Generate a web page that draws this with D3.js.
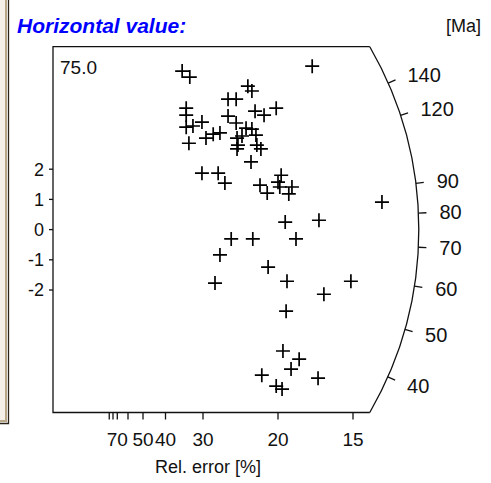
<!DOCTYPE html>
<html>
<head>
<meta charset="utf-8">
<script src="https://cdn.jsdelivr.net/npm/d3@7"></script>
<style>
  body { margin: 0; background: #fff; }
  text { font-family: "Liberation Sans", Arial, sans-serif; fill: #111; }
</style>
</head>
<body>
<div id="chart"></div>
<script>
var w = 491;
var h = 483;

// central value of the radial plot [Ma]
var centralAge = 75.0;

// precision (1 / rel. error) and standardised estimate of each grain
var precision = [2.87, 3.04, 4.33, 4.42, 3.89, 4.07, 4.96, 2.96, 4.49, 4.69,
                 2.96, 3.89, 3.31, 4.07, 2.96, 3.11, 4.29, 4.42, 3.71, 3.56,
                 3.40, 4.09, 4.20, 4.51, 3.02, 4.11, 4.09, 4.53, 4.62, 4.40,
                 3.31, 3.67, 3.82, 4.60, 4.76, 5.07, 5.00, 5.04, 5.31, 5.24,
                 5.16, 3.96, 4.44, 5.40, 3.71, 4.78, 3.60, 5.20, 6.62, 6.02,
                 5.76, 7.31, 5.91, 5.18, 5.11, 5.47, 5.29, 4.64, 5.89, 4.96, 5.09];
var zValue = [5.25, 5.05, 4.75, 4.59, 4.32, 4.32, 4.02, 4.02, 3.92, 3.79,
              3.79, 3.76, 3.56, 3.53, 3.39, 3.43, 3.36, 3.33, 3.20, 3.16,
              3.03, 3.03, 3.10, 3.13, 2.86, 2.80, 2.67, 2.80, 2.67, 2.24,
              1.87, 1.87, 1.54, 1.47, 1.21, 1.80, 1.57, 1.41, 1.41, 1.18,
              0.25, -0.31, -0.31, -0.31, -0.84, -1.24, -1.77, -1.71, -1.71, -2.14,
              5.41, 0.91, 0.31, -2.70, -4.02, -4.29, -4.62, -4.82, -4.92, -5.18, -5.28];

var zTicks = [2, 1, 0, -1, -2];
var relErrTicks = [80, 75, 70, 60, 50, 40, 30, 20, 15];
var relErrLabels = [70, 50, 40, 30, 20, 15];
var ageTicks = [140, 120, 90, 80, 70, 60, 50, 40];

var svg = d3.select("#chart").append("svg").attr("width", w).attr("height", h);

var x = d3.scaleLinear().domain([0, 7]).range([53, 368]);
var y = d3.scaleLinear().domain([-2, 2]).range([290, 169.2]);

var cx = x(0), cy = y(0);
var R = 365.8;
var maxAng = Math.PI / 6;
var k = 0.70;
function ageAngle(t) { return Math.atan(k * Math.log(t / centralAge)); }

// left window border
svg.append("rect").attr("x", 0).attr("y", 0).attr("width", 7).attr("height", 421)
  .style("fill", "#f4f0e8");
svg.append("path").attr("d", "M6,0V421H0").style("fill", "none")
  .style("stroke", "#b8a888").style("stroke-width", 2);
svg.append("path").attr("d", "M8.5,0V423.5H0").style("fill", "none")
  .style("stroke", "#2a2418").style("stroke-width", 1.3);

// frame: top, left, bottom and arc
var topY = cy - R * Math.sin(maxAng), botY = cy + R * Math.sin(maxAng);
var cornerX = cx + R * Math.cos(maxAng);
var arc = d3.arc().innerRadius(R).outerRadius(R)
  .startAngle(Math.PI / 2 - maxAng).endAngle(Math.PI / 2 + maxAng);
svg.append("path")
  .attr("d", "M" + cornerX + "," + topY + "H" + cx + "V" + botY + "H" + cornerX)
  .style("fill", "none").style("stroke", "#111").style("stroke-width", 1.3);
svg.append("path").attr("d", arc()).attr("transform", "translate(" + cx + "," + cy + ")")
  .style("fill", "none").style("stroke", "#111").style("stroke-width", 1.3);

// age ticks on the arc
ageTicks.forEach(function(t) {
  var a = ageAngle(t), c = Math.cos(a), s = Math.sin(a);
  svg.append("line")
    .attr("x1", cx + R * c).attr("y1", cy - R * s)
    .attr("x2", cx + (R + 8) * c).attr("y2", cy - (R + 8) * s)
    .style("stroke", "#111").style("stroke-width", 1.3);
  svg.append("text").text(t)
    .attr("x", cx + (R + 21) * c).attr("y", cy - (R + 21) * s)
    .attr("dy", "0.36em").attr("font-size", "20px");
});

// left axis (standardised estimate)
zTicks.forEach(function(v) {
  svg.append("line").attr("x1", cx - 4).attr("x2", cx).attr("y1", y(v)).attr("y2", y(v))
    .style("stroke", "#111").style("stroke-width", 1.3);
  svg.append("text").text(v).attr("x", 44).attr("y", y(v)).attr("dy", "0.36em")
    .attr("text-anchor", "end").attr("font-size", "18px");
});

// bottom axis (relative error)
relErrTicks.forEach(function(v) {
  svg.append("line").attr("x1", x(100 / v)).attr("x2", x(100 / v))
    .attr("y1", botY).attr("y2", botY + 7)
    .style("stroke", "#111").style("stroke-width", 1.3);
});
relErrLabels.forEach(function(v) {
  svg.append("text").text(v).attr("x", x(100 / v)).attr("y", 445.5)
    .attr("text-anchor", "middle").attr("font-size", "19px");
});
svg.append("text").text("Rel. error [%]").attr("x", 208).attr("y", 473)
  .attr("text-anchor", "middle").attr("font-size", "18px");

// labels
svg.append("text").text(centralAge.toFixed(1)).attr("x", 60).attr("y", 74)
  .attr("font-size", "19px");
svg.append("text").text("Horizontal value:").attr("x", 17).attr("y", 33)
  .attr("font-size", "21px").attr("font-weight", "bold").attr("font-style", "italic")
  .style("fill", "#0000ff");
svg.append("text").text("[Ma]").attr("x", 446).attr("y", 32).attr("font-size", "18px");

// grains
svg.selectAll("path.grain").data(precision).enter().append("path")
  .attr("class", "grain")
  .attr("d", "M-7,0H7M0,-7V7")
  .attr("transform", function(d, i) {
    return "translate(" + x(d) + "," + y(zValue[i]) + ")";
  })
  .style("fill", "none").style("stroke", "#000").style("stroke-width", 1.7);
</script>
</body>
</html>
